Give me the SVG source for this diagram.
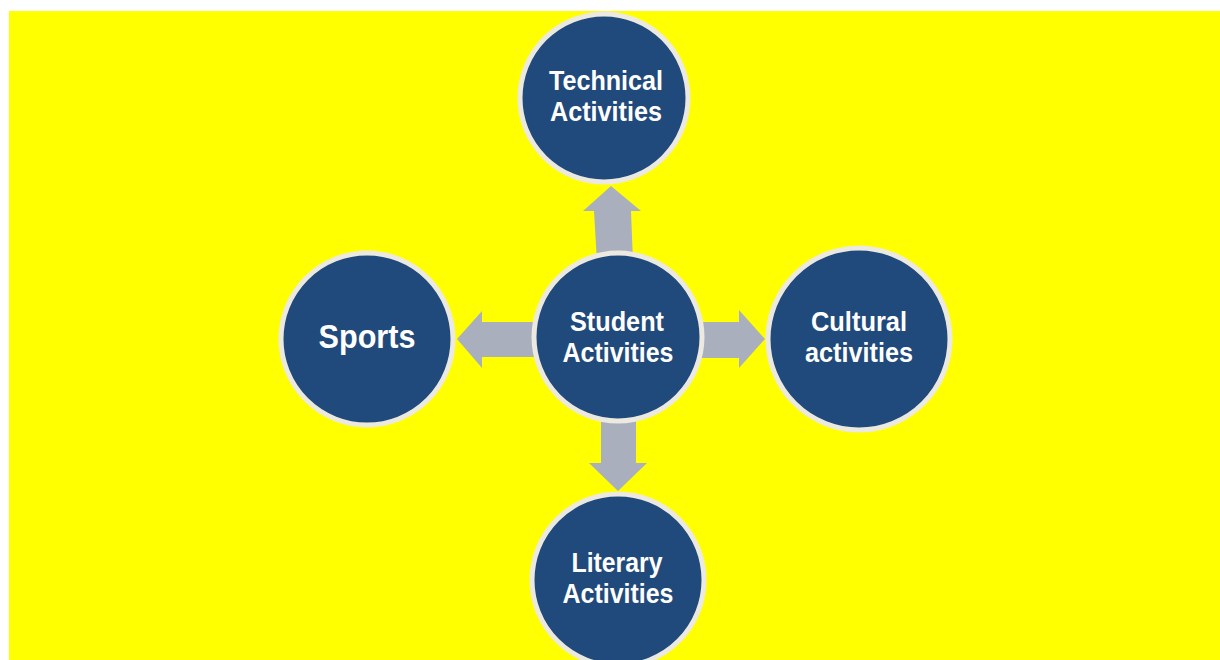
<svg xmlns="http://www.w3.org/2000/svg" width="1220" height="660" viewBox="0 0 1220 660">
<style>
.n{fill:#204A7C;stroke:#ECE9E0;stroke-width:5}
.t{fill:#FFFFFF;font-family:"Liberation Sans",Arial,sans-serif;font-weight:bold;font-size:28px;text-anchor:middle}
.a{fill:#A9AFBC}
</style>
<rect x="0" y="0" width="1220" height="660" fill="#FFFFFF"/>
<rect x="9" y="11" width="1211" height="649" fill="#FFFF00"/>
<g id="connectors">
<polygon class="a" points="597,262 594,211 583,211 611,186 641,211 631,211 633,262"/>
<polygon class="a" points="540,322 482,322 482,311 457,339 482,368 482,357 540,357"/>
<polygon class="a" points="696,322 739,322 739,310 765,339 739,368 739,358 696,358"/>
<polygon class="a" points="601,412 601,463 589,463 618,491 647,463 636,463 636,412"/>
</g>
<g id="technical">
<circle class="n" cx="604" cy="98" r="84"/>
<text class="t" x="606" y="90" textLength="114" lengthAdjust="spacingAndGlyphs">Technical</text>
<text class="t" x="606" y="121" textLength="112" lengthAdjust="spacingAndGlyphs">Activities</text>
</g>
<g id="sports">
<circle class="n" cx="367" cy="339" r="86"/>
<text class="t" x="367" y="348" style="font-size:34px" textLength="97" lengthAdjust="spacingAndGlyphs">Sports</text>
</g>
<g id="student">
<circle class="n" cx="618" cy="337" r="84"/>
<text class="t" x="617" y="331" textLength="94" lengthAdjust="spacingAndGlyphs">Student</text>
<text class="t" x="618" y="362" textLength="111" lengthAdjust="spacingAndGlyphs">Activities</text>
</g>
<g id="cultural">
<circle class="n" cx="859" cy="339" r="91"/>
<text class="t" x="859" y="331" textLength="96" lengthAdjust="spacingAndGlyphs">Cultural</text>
<text class="t" x="859" y="362" textLength="108" lengthAdjust="spacingAndGlyphs">activities</text>
</g>
<g id="literary">
<circle class="n" cx="618" cy="580" r="86"/>
<text class="t" x="617" y="572" textLength="91" lengthAdjust="spacingAndGlyphs">Literary</text>
<text class="t" x="618" y="603" textLength="111" lengthAdjust="spacingAndGlyphs">Activities</text>
</g>
</svg>
